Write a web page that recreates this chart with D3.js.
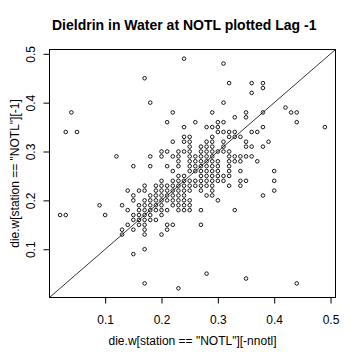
<!DOCTYPE html>
<html><head><meta charset="utf-8">
<script src="https://cdn.jsdelivr.net/npm/d3@7"></script>
<style>body{margin:0;background:#fff}svg{display:block}</style></head>
<body><svg id="c" width="360" height="360"></svg>
<script>
const titleText = "Dieldrin in Water at NOTL plotted Lag -1";
const xLabel = 'die.w[station == "NOTL"][-nnotl]';
const yLabel = 'die.w[station == "NOTL"][-1]';
const xTicks = [0.1, 0.2, 0.3, 0.4, 0.5];
const yTicks = [0.1, 0.2, 0.3, 0.4, 0.5];
// lag pairs: [value at t (x), value at t+1 (y)]
const lagPairs = [
[0.04,0.38],[0.03,0.34],[0.05,0.34],[0.12,0.29],[0.15,0.27],[0.02,0.17],[0.03,0.17],[0.09,0.19],[0.10,0.17],
[0.15,0.09],[0.17,0.10],[0.17,0.03],[0.23,0.02],[0.28,0.05],[0.35,0.04],[0.44,0.03],
[0.24,0.49],[0.31,0.48],[0.17,0.45],[0.32,0.44],[0.36,0.44],[0.38,0.44],[0.38,0.43],[0.36,0.42],[0.18,0.40],[0.31,0.40],
[0.42,0.39],[0.22,0.38],[0.29,0.38],[0.35,0.38],[0.38,0.38],[0.43,0.38],[0.44,0.38],[0.33,0.37],[0.35,0.37],
[0.21,0.36],[0.26,0.36],[0.30,0.36],[0.31,0.36],[0.44,0.36],[0.24,0.35],[0.28,0.35],[0.29,0.35],[0.30,0.35],[0.38,0.35],[0.49,0.35],
[0.30,0.34],[0.31,0.34],[0.32,0.34],[0.33,0.34],[0.36,0.34],[0.37,0.34],
[0.24,0.33],[0.25,0.33],[0.29,0.33],[0.32,0.33],[0.33,0.33],[0.34,0.33],
[0.22,0.32],[0.24,0.32],[0.25,0.32],[0.28,0.32],[0.29,0.32],[0.31,0.32],[0.35,0.32],[0.39,0.32],
[0.25,0.31],[0.27,0.31],[0.28,0.31],[0.29,0.31],[0.31,0.31],[0.35,0.31],[0.36,0.31],[0.38,0.31],
[0.20,0.30],[0.21,0.30],[0.23,0.30],[0.24,0.30],[0.25,0.30],[0.27,0.30],[0.28,0.30],[0.29,0.30],[0.30,0.30],[0.31,0.30],[0.32,0.30],
[0.18,0.29],[0.20,0.29],[0.22,0.29],[0.23,0.29],[0.25,0.29],[0.26,0.29],[0.27,0.29],[0.28,0.29],[0.29,0.29],[0.32,0.29],[0.33,0.29],[0.34,0.29],[0.35,0.29],[0.36,0.29],
[0.23,0.28],[0.25,0.28],[0.26,0.28],[0.27,0.28],[0.28,0.28],[0.29,0.28],[0.30,0.28],[0.32,0.28],[0.33,0.28],[0.34,0.28],[0.37,0.28],
[0.18,0.27],[0.21,0.27],[0.23,0.27],[0.25,0.27],[0.26,0.27],[0.27,0.27],[0.28,0.27],[0.29,0.27],[0.30,0.27],[0.32,0.27],
[0.22,0.26],[0.25,0.26],[0.26,0.26],[0.27,0.26],[0.28,0.26],[0.29,0.26],[0.30,0.26],[0.32,0.26],[0.34,0.26],[0.40,0.26],
[0.23,0.25],[0.24,0.25],[0.27,0.25],[0.28,0.25],[0.29,0.25],[0.30,0.25],[0.31,0.25],[0.32,0.25],
[0.20,0.24],[0.22,0.24],[0.23,0.24],[0.24,0.24],[0.25,0.24],[0.26,0.24],[0.27,0.24],[0.28,0.24],[0.29,0.24],[0.30,0.24],[0.31,0.24],[0.34,0.24],[0.35,0.24],[0.40,0.24],
[0.17,0.23],[0.19,0.23],[0.20,0.23],[0.21,0.23],[0.22,0.23],[0.23,0.23],[0.24,0.23],[0.25,0.23],[0.26,0.23],[0.27,0.23],[0.28,0.23],[0.29,0.23],[0.32,0.23],[0.34,0.23],
[0.14,0.22],[0.16,0.22],[0.17,0.22],[0.19,0.22],[0.20,0.22],[0.21,0.22],[0.22,0.22],[0.23,0.22],[0.24,0.22],[0.25,0.22],[0.27,0.22],[0.29,0.22],[0.40,0.22],
[0.15,0.21],[0.18,0.21],[0.19,0.21],[0.20,0.21],[0.21,0.21],[0.22,0.21],[0.23,0.21],[0.24,0.21],[0.28,0.21],[0.29,0.21],[0.38,0.21],
[0.15,0.20],[0.17,0.20],[0.18,0.20],[0.19,0.20],[0.20,0.20],[0.21,0.20],[0.22,0.20],[0.23,0.20],[0.24,0.20],[0.25,0.20],[0.30,0.20],
[0.13,0.19],[0.16,0.19],[0.17,0.19],[0.18,0.19],[0.19,0.19],[0.20,0.19],[0.22,0.19],[0.23,0.19],[0.24,0.19],[0.25,0.19],
[0.14,0.18],[0.16,0.18],[0.17,0.18],[0.18,0.18],[0.19,0.18],[0.20,0.18],[0.21,0.18],[0.23,0.18],[0.24,0.18],[0.25,0.18],[0.27,0.18],[0.33,0.18],
[0.15,0.17],[0.16,0.17],[0.17,0.17],[0.18,0.17],[0.20,0.17],
[0.15,0.16],[0.16,0.16],[0.17,0.16],[0.18,0.16],[0.19,0.16],
[0.14,0.15],[0.16,0.15],[0.17,0.15],[0.21,0.15],[0.22,0.15],[0.27,0.15],
[0.13,0.14],[0.15,0.14],[0.17,0.14],[0.21,0.14],
[0.13,0.13],[0.17,0.13],[0.20,0.13]
];

const svg = d3.select("#c");
const L = 49.5, R = 335.5, T = 49.5, B = 297.5;
const font = "'Liberation Sans', Arial, Helvetica, sans-serif";

function padded(ext){ const r = ext[1]-ext[0]; return [ext[0]-0.04*r, ext[1]+0.04*r]; }
const x = d3.scaleLinear().domain(padded(d3.extent(lagPairs, d=>d[0]))).range([L, R]);
const y = d3.scaleLinear().domain(padded(d3.extent(lagPairs, d=>d[1]))).range([B, T]);

// title
svg.append("text").attr("x", 52).attr("y", 30).attr("font-family", font)
  .attr("font-size", 14).attr("font-weight", "bold").text(titleText);

// points
svg.append("g").selectAll("circle").data(lagPairs).join("circle")
  .attr("cx", d=>x(d[0])).attr("cy", d=>y(d[1])).attr("r", 1.8)
  .attr("fill", "none").attr("stroke", "#000").attr("stroke-width", 0.9);

// abline(0,1)
svg.append("clipPath").attr("id","pc").append("rect")
  .attr("x", L).attr("y", T).attr("width", R-L).attr("height", B-T);
const dom = x.domain();
svg.append("line").attr("clip-path","url(#pc)")
  .attr("x1", x(dom[0])).attr("y1", y(dom[0])).attr("x2", x(dom[1])).attr("y2", y(dom[1]))
  .attr("stroke", "#000").attr("stroke-width", 0.8);

// box
svg.append("rect").attr("x", L).attr("y", T).attr("width", R-L).attr("height", B-T)
  .attr("fill", "none").attr("stroke", "#000").attr("stroke-width", 1);

// x axis
const xa = svg.append("g").attr("transform", `translate(0,${B})`)
  .call(d3.axisBottom(x).tickValues(xTicks).tickSize(6).tickPadding(12).tickFormat(d3.format(".1f")));
xa.select(".domain").remove();
xa.selectAll("text").attr("font-family", font).attr("font-size", 12).attr("fill", "#000");

// y axis
const ya = svg.append("g").attr("transform", `translate(${L},0)`)
  .call(d3.axisLeft(y).tickValues(yTicks).tickSize(6).tickFormat(d3.format(".1f")));
ya.select(".domain").remove();
ya.selectAll("text").attr("font-family", font).attr("font-size", 12).attr("fill", "#000")
  .attr("text-anchor", "middle").attr("dy", null).attr("x", null)
  .attr("transform", "translate(-14.5,0) rotate(-90)");

// axis labels
svg.append("text").attr("x", (L+R)/2).attr("y", 345).attr("text-anchor", "middle")
  .attr("font-family", font).attr("font-size", 12).text(xLabel);
svg.append("text").attr("transform", `translate(19,${(T+B)/2}) rotate(-90)`).attr("text-anchor", "middle")
  .attr("font-family", font).attr("font-size", 12).text(yLabel);
</script></body></html>
